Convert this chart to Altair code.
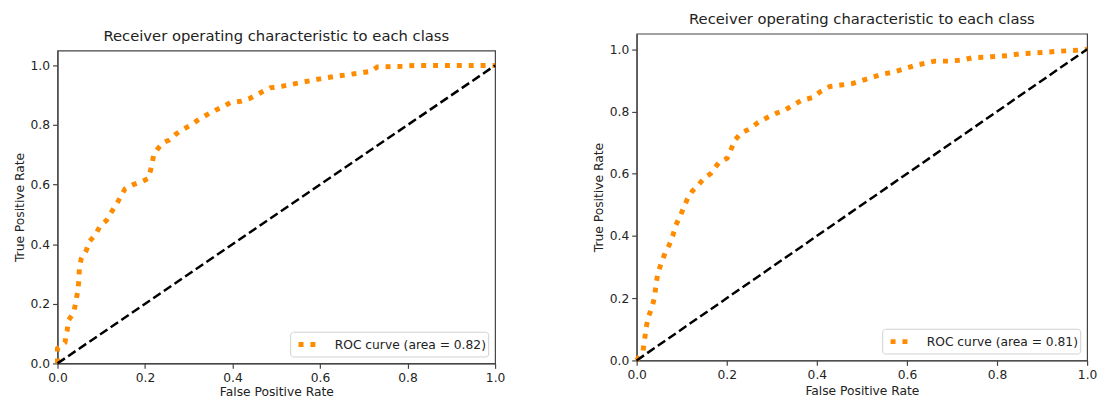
import altair as alt
import pandas as pd

# ---- data ----
left_fpr = [0.0, 0.0, 0.017, 0.022, 0.025, 0.037, 0.041, 0.046, 0.049, 0.05, 0.054, 0.066, 0.073,
            0.086, 0.097, 0.112, 0.124, 0.135, 0.154, 0.173, 0.192, 0.207, 0.213, 0.218, 0.22,
            0.229, 0.24, 0.256, 0.271, 0.286, 0.305, 0.324, 0.342, 0.361, 0.376, 0.395, 0.421,
            0.44, 0.466, 0.486, 0.512, 0.557, 0.61, 0.663, 0.716, 0.731, 0.79, 0.814, 1.0]
left_tpr = [0.0, 0.05, 0.07, 0.11, 0.145, 0.17, 0.2, 0.24, 0.28, 0.32, 0.35, 0.38, 0.41,
            0.43, 0.46, 0.48, 0.51, 0.535, 0.585, 0.6, 0.61, 0.62, 0.65, 0.685, 0.70,
            0.72, 0.74, 0.75, 0.77, 0.785, 0.80, 0.82, 0.835, 0.85, 0.86, 0.875, 0.88,
            0.89, 0.91, 0.925, 0.93, 0.943, 0.958, 0.969, 0.98, 0.995, 0.997, 1.0, 1.0]

right_fpr = [0.0, 0.014, 0.018, 0.021, 0.026, 0.034, 0.04, 0.043, 0.047, 0.054, 0.063, 0.072,
             0.08, 0.087, 0.097, 0.104, 0.113, 0.124, 0.138, 0.149, 0.164, 0.182, 0.201, 0.21,
             0.219, 0.231, 0.252, 0.27, 0.289, 0.311, 0.329, 0.347, 0.365, 0.391, 0.409, 0.428,
             0.453, 0.479, 0.501, 0.523, 0.545, 0.571, 0.596, 0.618, 0.64, 0.662, 0.69, 0.721,
             0.746, 0.776, 0.801, 0.827, 0.853, 0.882, 0.911, 0.941, 0.97, 1.0]
right_tpr = [0.0, 0.03, 0.07, 0.105, 0.14, 0.17, 0.205, 0.245, 0.28, 0.31, 0.345, 0.37,
             0.40, 0.435, 0.465, 0.49, 0.52, 0.545, 0.565, 0.585, 0.60, 0.635, 0.65, 0.68,
             0.71, 0.73, 0.745, 0.765, 0.78, 0.795, 0.805, 0.82, 0.835, 0.845, 0.865, 0.88,
             0.885, 0.89, 0.90, 0.91, 0.92, 0.927, 0.938, 0.948, 0.955, 0.962, 0.962, 0.965,
             0.973, 0.975, 0.977, 0.98, 0.986, 0.988, 0.991, 0.994, 0.996, 1.0]

left_label = "ROC curve (area = 0.82)"
right_label = "ROC curve (area = 0.81)"
title_text = "Receiver operating characteristic to each class"
tick_values = [0.0, 0.2, 0.4, 0.6, 0.8, 1.0]
diag_values = [0.0, 1.0]

FONT = "DejaVu Sans"
TXT = "#222222"
EDGE = "#444444"


def panel(fpr, tpr, label, w, h, title, x_title_pad):
    df = pd.DataFrame({"fpr": fpr, "tpr": tpr, "idx": list(range(len(fpr))), "series": label})
    ddf = pd.DataFrame({"fpr": diag_values, "tpr": diag_values})
    x = alt.X("fpr:Q",
              scale=alt.Scale(domain=[0, 1], nice=False, zero=False),
              axis=alt.Axis(values=tick_values, format=".1f", title="False Positive Rate",
                            labelFlush=False, labelOverlap=False, titlePadding=x_title_pad))
    y = alt.Y("tpr:Q",
              scale=alt.Scale(domain=[0, 1.05], nice=False, zero=False),
              axis=alt.Axis(values=tick_values, format=".1f", title="True Positive Rate",
                            labelOverlap=False))
    curve = alt.Chart(df).mark_line(strokeWidth=5, strokeDash=[5, 7], strokeCap="butt").encode(
        x=x, y=y, order="idx:Q",
        color=alt.Color("series:N", scale=alt.Scale(range=["#ff8c00"]),
                        legend=alt.Legend(title=None, orient="bottom-right", offset=7,
                                          symbolType="stroke", symbolSize=289,
                                          symbolStrokeWidth=5, symbolDash=[5, 7],
                                          symbolOffset=4,
                                          labelFont=FONT, labelFontSize=12.4, labelColor=TXT,
                                          labelOffset=17, padding=2,
                                          fillColor="white", strokeColor="#d0d0d0",
                                          cornerRadius=3)))
    diag = alt.Chart(ddf).mark_line(color="black", strokeWidth=2.5, strokeDash=[9, 4]).encode(
        x="fpr:Q", y="tpr:Q")
    return alt.layer(curve, diag).properties(
        width=w, height=h,
        title=alt.TitleParams(title, font=FONT, fontSize=14.9, fontWeight="normal",
                              color=TXT, anchor="middle", offset=7))


spacer_data = pd.DataFrame({"v": [0.0]})


def spacer(w, h):
    return alt.Chart(spacer_data).mark_point(size=0, opacity=0).encode(
        x=alt.value(0), y=alt.value(0)
    ).properties(width=w, height=h, view=alt.ViewBackground(strokeOpacity=0))


left = panel(left_fpr, left_tpr, left_label, 442, 316, title_text, 2.5)
right = panel(right_fpr, right_tpr, right_label, 455, 330, title_text, 4)

left_col = alt.vconcat(spacer(442, 18), left, spacing=0).resolve_scale(
    color="independent", x="independent", y="independent").resolve_legend(color="independent")
right_col = alt.vconcat(spacer(455, 1), right, spacing=0).resolve_scale(
    color="independent", x="independent", y="independent").resolve_legend(color="independent")

chart = alt.hconcat(left_col, right_col, spacing=86).resolve_scale(
    color="independent", x="independent", y="independent").resolve_legend(
    color="independent"
).properties(
    padding={"left": 4, "top": 0, "right": 0, "bottom": 0}
).configure_axis(
    labelFont=FONT, titleFont=FONT, labelFontSize=12.4, titleFontSize=12.4,
    titleFontWeight="normal", labelColor=TXT, titleColor=TXT,
    tickColor=EDGE, domainColor=EDGE, tickSize=5, labelPadding=3, titlePadding=4,
    grid=False, domainWidth=1.2, tickWidth=1.2
).configure_view(stroke=EDGE, strokeWidth=1.2)

chart.save("out.html", embed_options={"renderer": "svg", "actions": False})
